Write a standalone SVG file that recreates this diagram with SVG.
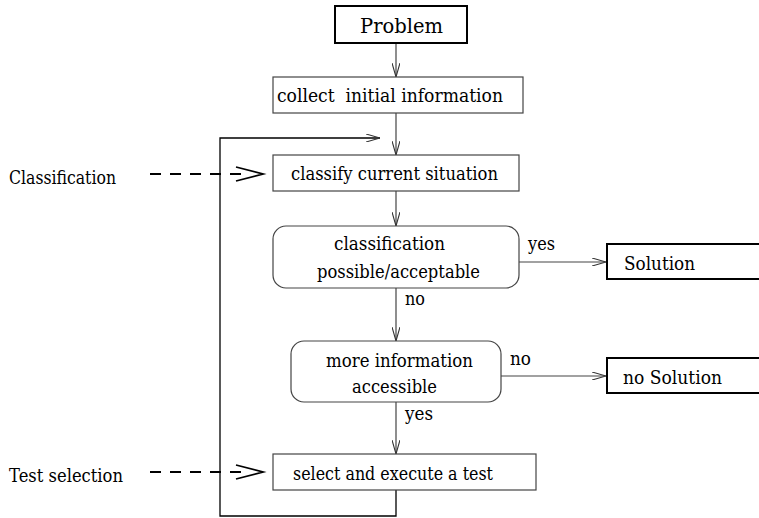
<svg xmlns="http://www.w3.org/2000/svg" width="759" height="518" viewBox="0 0 759 518">
  <style>
    text { font-family: "DejaVu Serif", "Liberation Serif", serif; font-size: 18px; fill: #000; }
    .big { font-size: 20.5px; }
    .side { font-size: 18.5px; }
    .box { fill: #fff; stroke: #444; stroke-width: 1.2; }
    .bold { fill: #fff; stroke: #000; stroke-width: 2; }
    .line { fill: none; stroke: #444; stroke-width: 1.2; }
    .loop { fill: none; stroke: #000; stroke-width: 1.3; }
    .dash { fill: none; stroke: #000; stroke-width: 1.8; stroke-dasharray: 11 9; }
    .head { fill: none; stroke: #000; stroke-width: 1.8; }
  </style>
  <defs>
    <marker id="open" viewBox="0 0 14 8" refX="14" refY="4" markerWidth="14" markerHeight="8" markerUnits="userSpaceOnUse" orient="auto">
      <path d="M0,0 L14,4 L0,8" fill="none" stroke="#333" stroke-width="1.1"/>
    </marker>
  </defs>

  <!-- connectors -->
  <g id="connectors">
    <line class="line" x1="396" y1="43" x2="396" y2="77" marker-end="url(#open)"/>
    <line class="line" x1="396" y1="113" x2="396" y2="155" marker-end="url(#open)"/>
    <line class="line" x1="396" y1="191" x2="396" y2="226" marker-end="url(#open)"/>
    <line class="line" x1="519" y1="262" x2="606" y2="262" marker-end="url(#open)"/>
    <line class="line" x1="396" y1="288" x2="396" y2="341" marker-end="url(#open)"/>
    <line class="line" x1="501" y1="376" x2="606" y2="376" marker-end="url(#open)"/>
    <line class="line" x1="396" y1="402" x2="396" y2="454" marker-end="url(#open)"/>
    <!-- feedback loop from test back to classification -->
    <polyline class="loop" points="396,490 396,516 220,516 220,138 380,138" marker-end="url(#open)"/>
    <!-- dashed side annotations -->
    <line class="dash" x1="150" y1="174" x2="248" y2="174"/>
    <polyline class="head" points="236,167 263,174 236,181"/>
    <line class="dash" x1="150" y1="472" x2="248" y2="472"/>
    <polyline class="head" points="236,465 263,472 236,479"/>
  </g>

  <g id="problem">
    <rect class="bold" x="335" y="6" width="132" height="37"/>
    <text class="big" x="360" y="33" textLength="83" lengthAdjust="spacingAndGlyphs">Problem</text>
  </g>
  <g id="collect">
    <rect class="box" x="273" y="77" width="250" height="36"/>
    <text x="277" y="102" textLength="226" lengthAdjust="spacingAndGlyphs" xml:space="preserve">collect  initial information</text>
  </g>
  <g id="classify">
    <rect class="box" x="273" y="155" width="246" height="36"/>
    <text x="291" y="180" textLength="207" lengthAdjust="spacingAndGlyphs">classify current situation</text>
  </g>
  <g id="decision-classification">
    <rect class="box" x="273" y="226" width="246" height="62" rx="13"/>
    <text x="334" y="250" textLength="111" lengthAdjust="spacingAndGlyphs">classification</text>
    <text x="317" y="278" textLength="163" lengthAdjust="spacingAndGlyphs">possible/acceptable</text>
  </g>
  <g id="solution">
    <rect class="bold" x="607" y="244" width="160" height="35"/>
    <text x="624" y="270" textLength="71" lengthAdjust="spacingAndGlyphs">Solution</text>
  </g>
  <g id="decision-information">
    <rect class="box" x="291" y="341" width="210" height="61" rx="13"/>
    <text x="326" y="367" textLength="147" lengthAdjust="spacingAndGlyphs">more information</text>
    <text x="352" y="393" textLength="85" lengthAdjust="spacingAndGlyphs">accessible</text>
  </g>
  <g id="no-solution">
    <rect class="bold" x="607" y="358" width="160" height="35"/>
    <text x="623" y="384" textLength="99" lengthAdjust="spacingAndGlyphs">no Solution</text>
  </g>
  <g id="test">
    <rect class="box" x="273" y="454" width="263" height="36"/>
    <text x="293" y="480" textLength="200" lengthAdjust="spacingAndGlyphs">select and execute a test</text>
  </g>

  <g id="labels">
    <text x="528" y="250" textLength="27" lengthAdjust="spacingAndGlyphs">yes</text>
    <text x="405" y="305" textLength="20" lengthAdjust="spacingAndGlyphs">no</text>
    <text x="510" y="365" textLength="21" lengthAdjust="spacingAndGlyphs">no</text>
    <text x="405" y="420" textLength="28" lengthAdjust="spacingAndGlyphs">yes</text>
    <text class="side" x="9" y="184" textLength="107" lengthAdjust="spacingAndGlyphs">Classification</text>
    <text class="side" x="9" y="482" textLength="114" lengthAdjust="spacingAndGlyphs">Test selection</text>
  </g>
</svg>
